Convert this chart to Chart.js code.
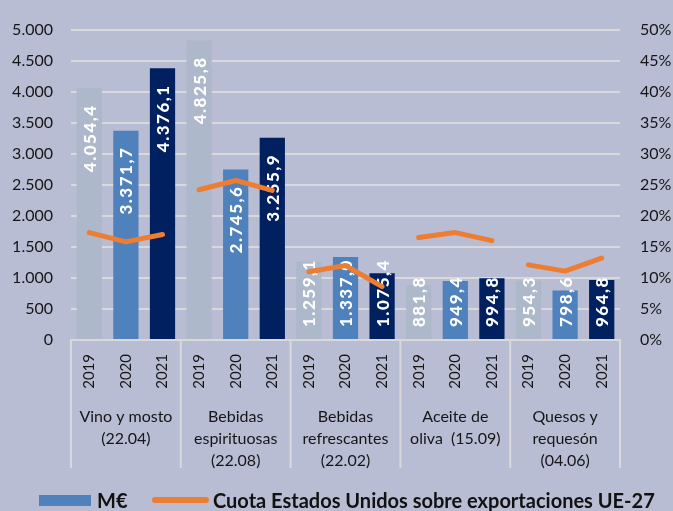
<!DOCTYPE html>
<html lang="es">
<head>
<meta charset="utf-8">
<script src="https://cdn.jsdelivr.net/npm/chart.js@4.4.0/dist/chart.umd.min.js"></script>
<style>
    html, body { margin: 0; padding: 0; background: #b8bdd3; }
    #wrap { position: relative; width: 673px; height: 511px; font-family: Lato, 'Open Sans', sans-serif; }
    #chart { position: absolute; left: 0; top: 0; }
    .leg { position: absolute; font-weight: bold; font-size: 20px; color: #111; line-height: 20px; white-space: nowrap; }
</style>
</head>
<body>
<div id="wrap">
    <canvas id="chart" width="673" height="511"></canvas>
    <span style="position:absolute;left:39px;top:495px;width:52px;height:11px;background:#4f81bd;"></span>
    <span class="leg" style="left:97px;top:490px;">M€</span>
    <span style="position:absolute;left:152px;top:497px;width:57px;height:6px;border-radius:3px;background:#ed7d31;"></span>
    <span class="leg" style="left:213px;top:490px;">Cuota Estados Unidos sobre exportaciones UE-27</span>
</div>
<script>
const categories = [
    ['Vino y mosto', '(22.04)'],
    ['Bebidas', 'espirituosas', '(22.08)'],
    ['Bebidas', 'refrescantes', '(22.02)'],
    ['Aceite de', 'oliva  (15.09)'],
    ['Quesos y', 'requesón', '(04.06)']
];
const years = ['2019', '2020', '2021'];
// M€ por categoria
const valores2019 = [4054.4, 4825.8, 1259.1, 881.8, 954.3];
const valores2020 = [3371.7, 2745.6, 1337.0, 949.4, 798.6];
const valores2021 = [4376.1, 3255.9, 1075.4, 994.8, 964.8];
// cuota EEUU (%)
const cuota2019 = [17.3, 24.2, 11.0, 16.5, 12.1];
const cuota2020 = [15.8, 25.7, 12.0, 17.3, 11.1];
const cuota2021 = [17.0, 24.1, 8.6, 16.0, 13.2];

const yearColors = ['#adb8ca', '#4f81bd', '#002060'];
const orange = '#ed7d31';
const gridColor = '#d9d9d9';
const textColor = '#161616';
const fontFamily = "Lato, 'Open Sans', sans-serif";

const labels = [], valores = [], cuotas = [], colores = [];
categories.forEach((c, i) => {
    [valores2019, valores2020, valores2021].forEach((arr, j) => {
        labels.push(years[j]);
        valores.push(arr[i]);
        colores.push(yearColors[j]);
    });
    [cuota2019, cuota2020, cuota2021].forEach(arr => cuotas.push(arr[i]));
});

const fmt = v => {
    const [ent, dec] = v.toFixed(1).split('.');
    return ent.replace(/\B(?=(\d{3})+(?!\d))/g, '.') + ',' + dec;
};

const extras = {
    id: 'extras',
    afterDatasetDraw(chart, args) {
        if (args.index !== 0) return;
        const ctx = chart.ctx;
        const base = chart.scales.y.getPixelForValue(0);
        ctx.save();
        ctx.font = `900 17px ${fontFamily}`;
        if ('letterSpacing' in ctx) ctx.letterSpacing = '1.5px';
        ctx.fillStyle = '#ffffff';
        ctx.textAlign = 'right';
        ctx.textBaseline = 'middle';
        args.meta.data.forEach((bar, i) => {
            const txt = fmt(valores[i]);
            const w = ctx.measureText(txt).width;
            const top = Math.min(bar.y + 16, base - 13 - w);
            ctx.save();
            ctx.translate(bar.x, top);
            ctx.rotate(-Math.PI / 2);
            ctx.fillText(txt, 0, 1);
            ctx.restore();
        });
        ctx.restore();
    },
    afterDraw(chart) {
        const ctx = chart.ctx;
        const area = chart.chartArea;
        const n = categories.length;
        const gw = (area.right - area.left) / n;
        ctx.save();
        ctx.strokeStyle = gridColor;
        ctx.lineWidth = 2;
        for (let i = 0; i <= n; i++) {
            const x = area.left + gw * i;
            ctx.beginPath();
            ctx.moveTo(x, area.bottom);
            ctx.lineTo(x, 468);
            ctx.stroke();
        }
        ctx.fillStyle = textColor;
        ctx.font = `16px ${fontFamily}`;
        ctx.textAlign = 'center';
        ctx.textBaseline = 'middle';
        categories.forEach((lines, i) => {
            const cx = area.left + gw * (i + 0.5);
            lines.forEach((t, k) => ctx.fillText(t, cx, 417 + k * 21.7));
        });
        ctx.restore();
    }
};

new Chart(document.getElementById('chart'), {
    data: {
        labels: labels,
        datasets: [
            {
                type: 'bar',
                label: 'M€',
                data: valores,
                backgroundColor: colores,
                barPercentage: 0.69,
                categoryPercentage: 1,
                yAxisID: 'y',
                order: 2
            },
            {
                type: 'line',
                label: 'Cuota Estados Unidos sobre exportaciones UE-27',
                data: cuotas,
                borderColor: orange,
                borderWidth: 5,
                borderCapStyle: 'round',
                borderJoinStyle: 'round',
                pointRadius: 0,
                tension: 0,
                yAxisID: 'y1',
                order: 1,
                segment: {
                    borderColor: c => (c.p0DataIndex % 3 === 2 ? 'transparent' : orange)
                }
            }
        ]
    },
    options: {
        responsive: false,
        animation: false,
        layout: { padding: { top: 23, left: 0, right: 0, bottom: 0 } },
        plugins: {
            legend: { display: false },
            tooltip: { enabled: false }
        },
        scales: {
            x: {
                afterFit: s => { s.height = 171; },
                grid: { display: false, drawTicks: false },
                border: { display: true, color: gridColor, width: 2 },
                ticks: {
                    autoSkip: false,
                    minRotation: 90,
                    maxRotation: 90,
                    padding: 14,
                    color: textColor,
                    font: { family: fontFamily, size: 15 }
                }
            },
            y: {
                position: 'left',
                min: 0,
                max: 5000,
                afterFit: s => { s.width = 71; },
                grid: { color: gridColor, lineWidth: 2, drawTicks: false },
                border: { display: false },
                ticks: {
                    stepSize: 500,
                    padding: 18,
                    color: textColor,
                    font: { family: fontFamily, size: 16 },
                    callback: v => v.toString().replace(/\B(?=(\d{3})+(?!\d))/g, '.')
                }
            },
            y1: {
                position: 'right',
                min: 0,
                max: 50,
                afterFit: s => { s.width = 53; },
                grid: { display: false, drawTicks: false },
                border: { display: false },
                ticks: {
                    stepSize: 5,
                    padding: 20,
                    color: textColor,
                    font: { family: fontFamily, size: 16 },
                    callback: v => v + '%'
                }
            }
        }
    },
    plugins: [extras]
});
</script>
</body>
</html>
